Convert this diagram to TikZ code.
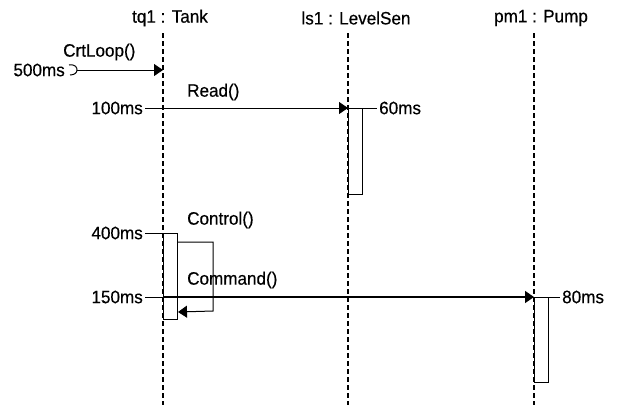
\documentclass[tikz,border=0pt]{standalone}
\usepackage{fontspec}
\setmainfont[FakeStretch=0.95, FakeBold=0.4]{Liberation Sans}
\usepackage{tikz}
\usetikzlibrary{arrows.meta, positioning}

\begin{document}
\begin{tikzpicture}[x=1pt, y=-1pt,
    objname/.style={font=\fontsize{18}{21}\selectfont, inner sep=0pt},
    lifeline/.style={line width=1.5pt, dash pattern=on 4.5pt off 3.5pt},
    actbox/.style={draw, fill=white, line width=1pt, minimum width=14pt,
                   inner sep=0pt, anchor=north west},
    msg/.style={-{Triangle[length=9pt, width=12pt]}, line width=1pt},
    tick/.style={line width=1pt},
    timelbl/.style={font=\fontsize{18}{21}\selectfont, inner sep=2pt},
    msglabel/.style={font=\fontsize{18}{21}\selectfont, inner sep=0pt, anchor=west}
]
\useasboundingbox (0,0) rectangle (618,405);

\node[objname] (tank) at (170,18) {tq1 : Tank};
\node[objname] (sensor) at (356,18) {ls1 : LevelSen};
\node[objname] (pump) at (541,18) {pm1 : Pump};

\coordinate (tankTop) at (163,33);
\coordinate (tankBot) at (163,405);
\coordinate (sensorTop) at (348,33);
\coordinate (sensorBot) at (348,405);
\coordinate (pumpTop) at (534,33);
\coordinate (pumpBot) at (534,405);

\draw[lifeline] (tankTop) -- (tankBot);
\draw[lifeline] (sensorTop) -- (sensorBot);
\draw[lifeline] (pumpTop) -- (pumpBot);

\node[actbox, minimum height=86pt] (sensorAct) at (348,108) {};
\node[actbox, minimum height=86pt] (tankAct) at (163,233) {};
\node[actbox, minimum height=85pt] (pumpAct) at (534,297) {};

\node[timelbl, anchor=east] (t500) at (67,70) {500ms};
\coordinate (loopIn) at (77,70);
\draw[tick] (69,65) .. controls (76,64) and (77,68) .. (loopIn)
    .. controls (77,73) and (74,75) .. (70,75);
\draw[msg] (loopIn) -- (loopIn -| tankTop);
\node[msglabel] (crt) at (63,52) {CrtLoop()};

\node[timelbl, anchor=east] (t100) at (145,108) {100ms};
\draw[tick] (t100.east) -- (t100 -| tankTop);
\draw[msg] (t100 -| tankTop) -- (sensorAct.north west);
\node[msglabel] (read) at (187,92) {Read()};
\node[timelbl, anchor=west] (t60) at (377,108) {60ms};
\draw[tick] (sensorAct.north east) -- (t60.west);

\node[timelbl, anchor=east] (t400) at (145,233) {400ms};
\draw[tick] (t400.east) -- (tankAct.north west);
\draw[msg] ([shift={(0,9)}]tankAct.north east) -- ++(35,0) -- ++(0,69)
    -- ([shift={(0,-8)}]tankAct.south east);
\node[msglabel] (control) at (187,220) {Control()};

\node[timelbl, anchor=east] (t150) at (145,297) {150ms};
\draw[tick] (t150.east) -- (t150 -| tankTop);
\draw[msg, line width=1.5pt] (t150 -| tankTop) -- (pumpAct.north west);
\node[msglabel] (command) at (187,280) {Command()};
\node[timelbl, anchor=west] (t80) at (560,297) {80ms};
\draw[tick] (pumpAct.north east) -- (t80.west);

\end{tikzpicture}
\end{document}
